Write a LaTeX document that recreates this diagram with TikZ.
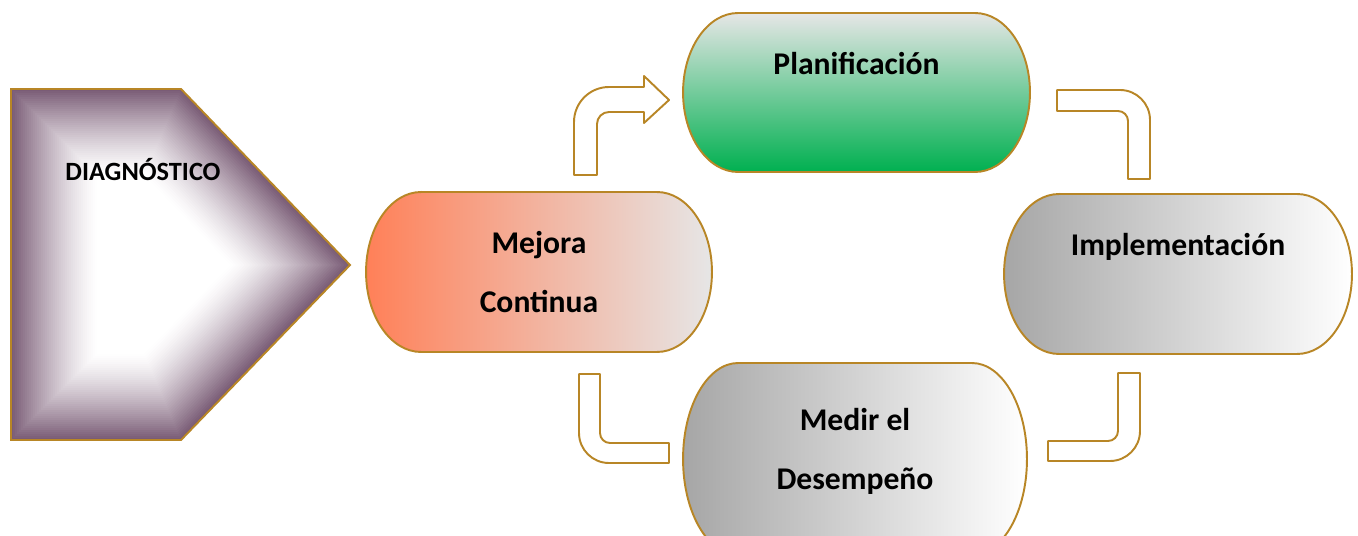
\documentclass[tikz,border=0pt]{standalone}
\usepackage{fontspec}
\setmainfont{Carlito}
\usepackage{tikz}
\usetikzlibrary{
	backgrounds
}

\definecolor{borde}{RGB}{184,134,38}
\definecolor{malva}{RGB}{122,92,118}
\definecolor{coral}{RGB}{255,128,88}
\definecolor{grisclaro}{RGB}{230,230,230}
\definecolor{gris}{RGB}{166,166,166}
\definecolor{verde}{RGB}{0,176,80}

\tikzset{
	etapa/.style={minimum width=6.94cm, minimum height=3.2cm, inner sep=0pt, outer sep=0pt,
		align=center, font=\fontsize{18}{33.5}\selectfont\bfseries},
	flecha/.style={draw=borde, fill=white, line width=1.1pt, line join=round},
	rellplan/.style={top color=grisclaro, bottom color=verde},
	rellmejora/.style={left color=coral, right color=grisclaro},
	rellgris/.style={left color=gris, right color=white}
}

\begin{document}
\begin{tikzpicture}[x=0.02cm, y=-0.02cm]
		\path[use as bounding box, clip] (0,0) rectangle (1358,536);

		\foreach \d in {0,2,...,86}{
			\pgfmathsetmacro\tono{100*(1-\d/86)^1.35}
			\fill[malva!\tono!white] (11+\d,89+\d) -- (181-0.426*\d,89+\d) -- (350-1.386*\d,265)
				-- (181-0.426*\d,440-\d) -- (11+\d,440-\d) -- cycle;
		}
		\draw[borde, line width=1.1pt] (11,89) -- (181,89) -- (350,265) -- (181,440) -- (11,440) -- cycle;
		\node[font=\fontsize{15}{18}\selectfont\bfseries] (diag) at (143,170) {DIAGNÓSTICO};

		\node[etapa, minimum height=3.18cm]            (plan)   at (856.5,92.5) {Planificación\\\mbox{}};
		\node[etapa, minimum width=6.92cm]             (mejora) at (539,272)    {Mejora\\Continua};
		\node[etapa, minimum width=6.96cm]             (impl)   at (1178,274)   {Implementación\\\mbox{}};
		\node[etapa, minimum width=6.88cm, minimum height=3.84cm] (medir) at (855,459) {Medir el\\Desempeño\\[-0.78cm]\mbox{}};

		\begin{pgfonlayer}{background}
			\foreach \n/\b/\relleno in {plan/1.59cm/rellplan, mejora/1.6cm/rellmejora, impl/1.6cm/rellgris, medir/1.92cm/rellgris}
				\shade[\relleno, draw=borde, line width=1.1pt]
					([xshift=1.1cm]\n.north west) -- ([xshift=-1.1cm]\n.north east)
					arc[start angle=90, end angle=-90, x radius=1.1cm, y radius=\b]
					-- ([xshift=1.1cm]\n.south west)
					arc[start angle=270, end angle=90, x radius=1.1cm, y radius=\b] -- cycle;
		\end{pgfonlayer}

		\filldraw[flecha] (574,175) -- (574,122) arc[start angle=180, end angle=90, radius=0.7cm]
			-- (644,87) -- (644,76) -- (669,100) -- (644,123) -- (644,112) -- (609,112)
			arc[start angle=90, end angle=180, radius=0.24cm] -- (597,175) -- cycle;
		\filldraw[flecha] (1057,90) -- (1120,90) arc[start angle=90, end angle=0, radius=0.6cm]
			-- (1150,179) -- (1128,179) -- (1128,121)
			arc[start angle=0, end angle=90, radius=0.2cm] -- (1057,111) -- cycle;
		\filldraw[flecha] (579,374) -- (600,374) -- (600,433) arc[start angle=180, end angle=270, radius=0.2cm]
			-- (669,443) -- (669,463) -- (609,463)
			arc[start angle=270, end angle=180, radius=0.6cm] -- cycle;
		\filldraw[flecha] (1118,373) -- (1140,373) -- (1140,431) arc[start angle=0, end angle=-90, radius=0.6cm]
			-- (1048,461) -- (1048,441) -- (1108,441)
			arc[start angle=-90, end angle=0, radius=0.2cm] -- cycle;
\end{tikzpicture}
\end{document}
